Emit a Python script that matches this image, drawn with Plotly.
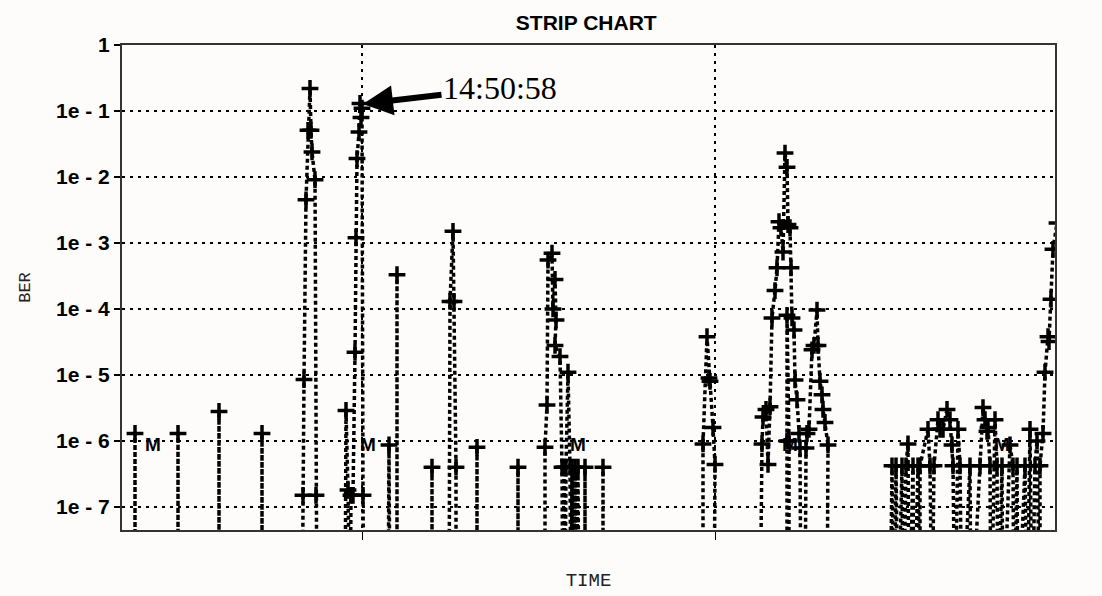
import math
import plotly.graph_objects as go

# ---- data (time in seconds from start of strip, BER; 0 = no errors) ----
time_s = [
    13, 13, 13,
    56, 56, 56,
    97, 97, 97,
    140, 140, 140,
    180, 181, 182, 184, 186, 188, 189, 190, 193, 194, 195,
    223, 224, 226, 227,
    228, 229, 231, 233, 234, 235, 237, 238, 239, 240, 241, 242,
    266, 267, 268,
    275, 275, 275,
    310, 310, 310,
    327, 328, 331, 332, 334, 334,
    355, 355, 355,
    396, 396, 396,
    423, 423, 425, 426, 430, 431, 433, 434, 433, 438, 440, 441, 442, 443, 444, 446, 448, 449, 450, 451, 453, 454, 456, 457,
    463, 463, 463,
    481, 481, 481,
    581, 581, 585, 587, 588, 591, 593, 592,
    638, 640, 641, 644, 646, 648, 650, 653, 655, 657, 659, 661, 663, 665, 666, 668, 669, 670, 672, 673, 675, 677, 678, 679,
    665, 665, 665, 667, 667,
    683, 684, 685, 687, 690, 692, 695, 696, 698, 700, 701, 703, 706, 705,
    768, 770, 772, 774, 776, 780, 781, 784, 786, 787, 791, 792, 796, 798, 798, 806, 808, 810,
    812, 816, 818, 821, 825, 828, 830, 831, 833, 836, 838, 840, 848, 849,
    858, 861, 863, 865, 866, 868, 869, 873, 875, 876, 880, 881, 888, 891, 892, 895, 896,
    903, 905, 908, 910, 913, 915, 916,
    918, 918, 921, 923, 926, 927, 929, 931, 935,
]
ber = [
    0, 1.3e-6, 0,
    0, 1.3e-6, 0,
    0, 2.8e-6, 0,
    0, 1.3e-6, 0,
    0, 1.5e-7, 8.5e-6, 4.5e-3, 5.1e-2, 2.2e-1, 5.1e-2, 2.4e-2, 9.1e-3, 1.5e-7, 0,
    0, 2.9e-6, 1.8e-7, 0,
    0, 1.5e-7, 1.5e-7, 2.2e-5, 1.2e-3, 1.9e-2, 4.8e-2, 1.3e-1, 8e-2, 1.1e-1, 1.5e-7, 0,
    0, 8.7e-7, 0,
    0, 3.3e-4, 0,
    0, 4e-7, 0,
    0, 1.3e-4, 1.5e-3, 1.3e-4, 4e-7, 0,
    0, 8e-7, 0,
    0, 4e-7, 0,
    0, 8e-7, 3.5e-6, 5.5e-4, 7e-4, 1e-4, 2.8e-4, 6.8e-5, 2.8e-5, 1.9e-5, 4e-7, 0, 4e-7, 0, 4e-7, 1.1e-5, 4e-7, 0, 4e-7, 0, 4e-7, 0, 4e-7, 0,
    0, 4e-7, 0,
    0, 4e-7, 0,
    0, 9e-7, 3.8e-5, 9e-6, 8e-6, 1.6e-6, 4.4e-7, 0,
    0, 9e-7, 2.3e-6, 3e-6, 4.4e-7, 3.3e-6, 7.3e-5, 1.9e-4, 4.2e-4, 2.1e-3, 1.7e-3, 7.3e-4, 2.3e-2, 1.4e-2, 1.9e-3, 1.7e-3, 4.2e-4, 7.3e-5, 4.8e-5, 8.4e-6, 4.2e-6, 1.3e-6, 7.8e-7, 0,
    0, 1e-6, 8e-5, 1e-6, 0,
    0, 7.8e-7, 1.3e-6, 1.5e-6, 2.4e-5, 2.8e-5, 9.6e-5, 2.8e-5, 8e-6, 5e-6, 3e-6, 1.9e-6, 8.7e-7, 0,
    0, 4.2e-7, 0, 4.2e-7, 0, 4.2e-7, 0, 4.2e-7, 9e-7, 0, 4.2e-7, 0, 4.2e-7, 0, 4.2e-7, 1.5e-6, 4.2e-7, 0,
    4.2e-7, 2.1e-6, 1.5e-6, 1.5e-6, 3e-6, 2.1e-6, 8.7e-7, 4.2e-7, 0, 1.5e-6, 4.2e-7, 0, 4.2e-7, 0,
    4.2e-7, 3.2e-6, 2.1e-6, 1.4e-6, 1.6e-6, 4.2e-7, 0, 2.1e-6, 4.2e-7, 0, 4.2e-7, 0, 8.7e-7, 4.2e-7, 0, 4.2e-7, 0,
    4.2e-7, 0, 1.5e-6, 0, 4.2e-7, 1e-6, 0,
    0, 4.2e-7, 1.3e-6, 1.1e-5, 3.8e-5, 3.2e-5, 1.4e-4, 8e-4, 2e-3,
]

# "M" event markers
marker_time_s = [31, 246, 456, 668, 880]
marker_ber = [8.4e-7, 8.4e-7, 8.4e-7, 8.4e-7, 8.4e-7]

# axis ticks
y_tickvals = [1, 1e-1, 1e-2, 1e-3, 1e-4, 1e-5, 1e-6, 1e-7]
y_ticktext = ["1", "1e - 1", "1e - 2", "1e - 3", "1e - 4", "1e - 5", "1e - 6", "1e - 7"]
x_gridvals = [240, 593]

# annotated sample
note_text = "14:50:58"
note_time_s = 241
note_ber = 0.128

FLOOR = 1e-9  # zero-error samples drawn below the visible range
ber_plot = [b if b > 0 else FLOOR for b in ber]

fig = go.Figure()
fig.add_trace(go.Scatter(
    x=time_s, y=ber_plot, mode="lines+markers",
    line=dict(color="black", width=3.5, dash="4px,3px"),
    marker=dict(symbol="cross-thin", size=12, line=dict(color="black", width=3.5)),
    cliponaxis=True, showlegend=False, hoverinfo="skip",
))
fig.add_trace(go.Scatter(
    x=marker_time_s, y=marker_ber, mode="text", text=["M"] * len(marker_time_s),
    textfont=dict(family="Liberation Sans", size=19, color="black", weight="bold"),
    showlegend=False, hoverinfo="skip",
))

fig.add_annotation(
    x=note_time_s, y=math.log10(note_ber), xref="x", yref="y",
    text=note_text, showarrow=True, ax=137, ay=-16,
    arrowhead=2, arrowsize=1.0, arrowwidth=6, arrowcolor="black",
    font=dict(family="Liberation Serif", size=32, color="black"),
    standoff=0,
)

fig.update_layout(
    width=1102, height=596,
    margin=dict(l=122, r=47, t=45, b=66),
    paper_bgcolor="#fdfcfa", plot_bgcolor="#fdfcfa",
    title=dict(text="STRIP CHART", x=0.532, xanchor="center", y=0.962, yanchor="middle",
               font=dict(family="Liberation Sans", size=21, color="black", weight="bold")),
)
fig.update_xaxes(
    range=[0, 933], tickvals=x_gridvals, showticklabels=False,
    ticks="outside", ticklen=8, tickcolor="black", tickwidth=1,
    showgrid=True, gridcolor="black", gridwidth=1.5, griddash="3px,5px",
    showline=True, linecolor="#333333", linewidth=2, mirror=True,
    zeroline=False,
    title=dict(text="TIME", font=dict(family="Liberation Mono", size=19, color="#222222"), standoff=34),
)
fig.update_yaxes(
    type="log", range=[-7.35, 0], tickvals=y_tickvals, ticktext=y_ticktext,
    ticks="outside", ticklen=6, tickcolor="black", tickwidth=1.5,
    tickfont=dict(family="Liberation Sans", size=21, color="black", weight="bold"),
    showgrid=True, gridcolor="black", gridwidth=1.5, griddash="3px,5px",
    showline=True, linecolor="#333333", linewidth=2, mirror=True,
    zeroline=False,
    title=dict(text="BER", font=dict(family="Liberation Mono", size=17, color="#222222"), standoff=21),
)

fig.write_html("out.html")
